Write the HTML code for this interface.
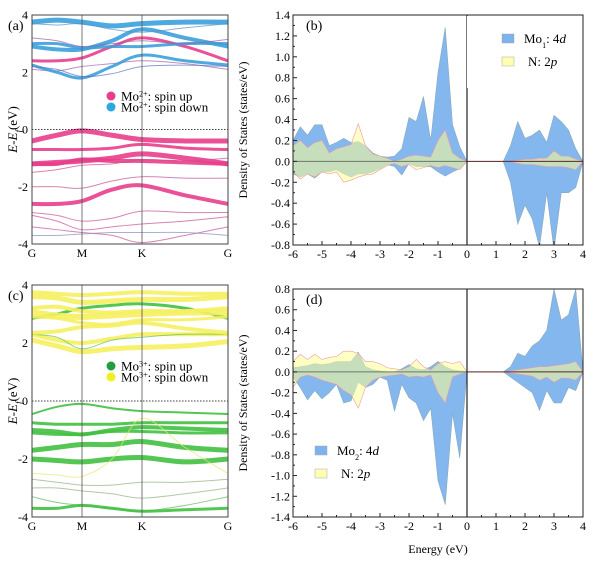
<!DOCTYPE html>
<html><head><meta charset="utf-8"><style>
html,body{margin:0;padding:0;background:#fff}
svg{display:block;font-family:"Liberation Serif",serif}
</style></head><body>
<svg id="fig" width="600" height="564" viewBox="0 0 600 564"></svg>
<script>
// ---------- DOS data (energy grid -6..4 step 0.25) ----------
const energies = [];
for (let i = 0; i <= 40; i++) energies.push(-6 + i * 0.25);
const mo1Up = [0.2,0.33,0.25,0.35,0.35,0.15,0.18,0.22,0.18,0.19,0.15,0.08,0.05,0.04,0.05,0.12,0.42,0.38,0.62,0.2,0.85,1.28,0.35,0.14,0,0,0,0,0,0,0.15,0.38,0.22,0.25,0.3,0.18,0.44,0.38,0.3,0.12,0];
const mo1Down = [-0.12,-0.15,-0.12,-0.16,-0.1,-0.1,-0.08,-0.12,-0.15,-0.12,-0.12,-0.1,-0.07,-0.03,-0.05,-0.13,-0.02,-0.05,-0.05,-0.05,-0.1,-0.14,-0.1,-0.07,0,0,0,0,0,0,-0.2,-0.6,-0.42,-0.55,-0.82,-0.3,-0.85,-0.3,-0.3,-0.25,0];
const n1Up = [0.15,0.2,0.13,0.18,0.2,0.08,0.12,0.14,0.16,0.36,0.15,0.07,0.05,0.03,0,0.02,0.05,0.06,0.05,0.04,0.2,0.3,0.08,0.03,0,0,0,0,0,0,0,0.01,0.02,0.02,0.03,0.03,0.1,0.05,0.05,0.02,0];
const n1Down = [-0.1,-0.17,-0.12,-0.15,-0.1,-0.12,-0.1,-0.2,-0.18,-0.15,-0.13,-0.12,-0.08,-0.04,-0.02,-0.05,-0.03,-0.08,-0.06,-0.04,-0.06,-0.04,-0.06,-0.08,0,0,0,0,0,0,0,-0.02,-0.03,-0.03,-0.04,-0.05,-0.05,-0.05,-0.06,-0.08,0];
const mo2Up = [0.04,0.05,0.06,0.08,0.07,0.08,0.1,0.1,0.1,0.19,0.05,0.02,0.01,0,0,0.03,0.07,0.03,0.02,0.05,0.1,0.05,0.02,0.01,0,0,0,0,0,0,0.05,0.18,0.15,0.25,0.3,0.4,0.8,0.5,0.55,0.8,0];
const mo2Down = [-0.05,-0.15,-0.27,-0.18,-0.26,-0.2,-0.12,-0.3,-0.28,-0.1,-0.15,-0.12,-0.05,-0.08,-0.38,-0.12,-0.25,-0.3,-0.47,-0.35,-1.05,-1.28,-0.4,-0.83,0,0,0,0,0,0,-0.05,-0.1,-0.15,-0.2,-0.37,-0.18,-0.3,-0.3,-0.15,-0.18,0];
const n2Up = [0.1,0.17,0.12,0.17,0.12,0.14,0.15,0.2,0.2,0.18,0.1,0.1,0.08,0.04,0.03,0.02,0.05,0.12,0.05,0.02,0.08,0.1,0.08,0.1,0,0,0,0,0,0,0.01,0.02,0.03,0.04,0.05,0.05,0.06,0.07,0.08,0.1,0];
const n2Down = [-0.15,-0.05,-0.03,-0.05,-0.08,-0.1,-0.12,-0.18,-0.22,-0.35,-0.15,-0.08,-0.05,-0.04,-0.03,-0.02,-0.05,-0.04,-0.05,-0.03,-0.2,-0.3,-0.05,-0.02,0,0,0,0,0,0,-0.01,-0.02,-0.03,-0.04,-0.08,-0.05,-0.1,-0.06,-0.06,-0.08,0];
const xTickLabels = ["-6","-5","-4","-3","-2","-1","0","1","2","3","4"];
const bTicks = [1.4,1.2,1.0,0.8,0.6,0.4,0.2,0.0,-0.2,-0.4,-0.6,-0.8];
const dTicks = [0.8,0.6,0.4,0.2,0.0,-0.2,-0.4,-0.6,-0.8,-1.0,-1.2,-1.4];
// ---------- Band data (energies at 7 k-points: G, GM, M, MK, K, KG, G) ----------
const kPoints = [0,0.5,1,1.6,2.2,3.06,3.92];
const kLabels = ["G","M","K","G"];
const kLabelPos = [0,1,2.2,3.92];
const bandTicks = [4,2,0,-2,-4];
const bandsA = [
 [[-0.4,-0.2,-0.05,-0.2,-0.35,-0.4,-0.4],"#e83e8c",5],
 [[-0.7,-0.7,-0.7,-0.65,-0.52,-0.65,-0.7],"#e83e8c",3],
 [[-1.2,-1.15,-1.1,-1.0,-0.85,-1.0,-1.2],"#e83e8c",5],
 [[-1.2,-1.2,-1.05,-1.1,-1.1,-1.15,-1.2],"#e83e8c",4],
 [[-1.5,-1.4,-1.25,-1.2,-1.05,-1.1,-1.0],"#d0508a",1],
 [[-2.0,-2.0,-2.05,-1.8,-1.65,-1.7,-1.7],"#c05090",1],
 [[-2.6,-2.6,-2.5,-2.1,-1.95,-2.3,-2.6],"#e83e8c",4],
 [[-2.9,-3.0,-3.2,-3.1,-2.85,-2.9,-2.9],"#c85090",1],
 [[-3.0,-3.2,-3.5,-3.4,-3.3,-3.2,-3.05],"#c85090",1],
 [[-3.4,-3.5,-3.6,-3.7,-3.95,-3.7,-3.4],"#c85090",1],
 [[-3.7,-3.7,-3.65,-3.6,-3.6,-3.6,-3.7],"#8090c0",1],
 [[2.4,2.4,2.5,2.9,3.2,2.9,2.4],"#e83e8c",3],
 [[2.1,2.05,2.2,2.3,2.4,2.3,2.1],"#a060a0",1],
 [[2.25,2.0,1.8,2.2,2.6,2.4,2.25],"#3aa0dc",3],
 [[2.2,2.1,1.85,1.95,2.2,2.25,2.2],"#6070c0",1],
 [[2.9,2.8,2.8,3.1,3.5,3.2,2.9],"#3aa0dc",4],
 [[3.0,3.0,2.85,2.9,2.9,3.0,3.0],"#3aa0dc",3],
 [[3.2,3.1,2.9,3.0,3.1,3.0,3.15],"#a060a0",1],
 [[3.7,3.65,3.7,3.5,3.4,3.55,3.7],"#6090c0",1],
 [[3.75,3.82,3.75,3.62,3.7,3.75,3.75],"#3aa0dc",5]
];
const bandsC = [
 [[-0.45,-0.2,-0.1,-0.25,-0.35,-0.4,-0.45],"#40c040",2],
 [[-0.75,-0.8,-0.8,-0.8,-0.75,-0.75,-0.75],"#40c040",3],
 [[-1.0,-1.05,-1.15,-1.0,-0.9,-0.95,-1.0],"#40c040",4],
 [[-1.1,-1.15,-1.15,-1.05,-1.05,-1.1,-1.1],"#40c040",3],
 [[-1.7,-1.6,-1.5,-1.5,-1.4,-1.6,-1.7],"#40c040",5],
 [[-2.0,-2.05,-2.1,-2.0,-1.95,-2.1,-2.0],"#40c040",5],
 [[-2.5,-2.55,-2.6,-2.0,-0.6,-1.6,-2.5],"#e8e870",1],
 [[-2.7,-2.8,-2.9,-2.9,-2.8,-2.8,-2.7],"#90b080",1],
 [[-3.0,-3.0,-3.1,-3.2,-3.35,-3.2,-3.0],"#90b080",1],
 [[-3.3,-3.5,-3.6,-3.7,-3.8,-3.6,-3.3],"#60b060",1],
 [[-3.7,-3.7,-3.6,-3.7,-3.8,-3.75,-3.7],"#40c040",3],
 [[2.1,1.9,1.7,1.8,1.85,1.9,2.05],"#f6f060",5],
 [[2.3,2.1,2.0,2.15,2.3,2.3,2.3],"#f6f060",4],
 [[2.3,2.2,1.8,2.1,2.2,2.3,2.3],"#60c060",1],
 [[2.35,2.4,2.55,2.6,2.7,2.5,2.35],"#f6f060",4],
 [[2.85,3.0,3.2,3.3,3.35,3.2,2.85],"#40c040",3],
 [[2.9,2.85,2.7,2.65,2.8,2.8,2.9],"#f6f060",3],
 [[3.05,2.95,2.9,2.95,3.0,3.05,3.05],"#f6f060",6],
 [[3.2,3.25,3.1,3.05,3.1,3.1,3.2],"#f6f060",4],
 [[3.6,3.55,3.4,3.45,3.5,3.5,3.6],"#f6f060",5],
 [[3.75,3.7,3.65,3.7,3.75,3.7,3.7],"#f6f060",4]
];

const NS="http://www.w3.org/2000/svg";
const svg=document.getElementById("fig");
function el(tag,attrs,parent){const e=document.createElementNS(NS,tag);for(const k in attrs)e.setAttribute(k,attrs[k]);(parent||svg).appendChild(e);return e;}
function txt(s,x,y,attrs,parent){const t=el("text",Object.assign({x:x,y:y,"font-size":12,fill:"#000"},attrs||{}),parent);t.textContent=s;return t;}
function smooth(pts){let d="M"+pts[0][0]+","+pts[0][1];for(let i=0;i<pts.length-1;i++){const p0=pts[Math.max(0,i-1)],p1=pts[i],p2=pts[i+1],p3=pts[Math.min(pts.length-1,i+2)];const c1=[p1[0]+(p2[0]-p0[0])/6,p1[1]+(p2[1]-p0[1])/6],c2=[p2[0]-(p3[0]-p1[0])/6,p2[1]-(p3[1]-p1[1])/6];d+=" C"+c1+" "+c2+" "+p2;}return d;}

function bandPanel(name,L,R,T,B,bands,legendCols,legendTxt,label){
  const g=el("g",{});
  
  
  const xs=k=>L+(k/3.92)*(R-L), ys=e=>T+(4-e)/8*(B-T);
  el("rect",{x:L,y:T,width:R-L,height:B-T,fill:"#fff"},g);
  bands.forEach(b=>{
    const p=el("path",{d:smooth(b[0].map((e,i)=>[xs(kPoints[i]),ys(e)])),fill:"none",stroke:b[1],"stroke-width":b[2],"stroke-opacity":b[2]>1?0.9:0.7},g);
    
    
  });
  [1,2.2].forEach(k=>el("line",{x1:xs(k),x2:xs(k),y1:T,y2:B,stroke:"#555","stroke-width":0.8},g));
  el("line",{x1:L,x2:R,y1:ys(0),y2:ys(0),stroke:"#000","stroke-width":0.7,"stroke-dasharray":"1.5,1.5"},g);
  el("rect",{x:L,y:T,width:R-L,height:B-T,fill:"none",stroke:"#444","stroke-width":1},g);
  bandTicks.forEach(v=>{const t=txt(String(v),L-4,ys(v)+4,{"text-anchor":"end"},g);});
  kLabels.forEach((s,i)=>{const t=txt(s,xs(kLabelPos[i]),B+13,{"text-anchor":"middle"},g);});
  const yt=el("text",{x:0,y:0,transform:`translate(${L-15},${ys(0)}) rotate(-90)`,"text-anchor":"middle","font-size":13},g);
  
  yt.innerHTML='<tspan font-style="italic">E</tspan>-<tspan font-style="italic">E</tspan><tspan font-style="italic" font-size="9" baseline-shift="sub">f</tspan>(eV)';
  const pl=txt(label,L-24,T+15,{"font-size":14},g);
  legendTxt.forEach((s,i)=>{
    const y=T+81+i*11;
    const lg=el("g",{},g);
    el("circle",{cx:L+79,cy:y,r:4.5,fill:legendCols[i]},lg);
    const t=el("text",{x:L+89,y:y+4.5,"font-size":13},lg);
    t.innerHTML='Mo<tspan font-size="8" baseline-shift="super">'+s[0]+'</tspan>: '+s[1];
  });
}

function dosPanel(name,L,R,T,B,ymax,ymin,ticks,up,down,nUp,nDown,label,legend,legPos){
  const g=el("g",{});
  
  
  const xs=e=>L+(e+6)/10*(R-L), ys=v=>T+(ymax-v)/(ymax-ymin)*(B-T);
  const cp="clip-"+name;
  const c=el("clipPath",{id:cp},g);el("rect",{x:L,y:T,width:R-L,height:B-T},c);
  const area=(arr,fill,stroke,nm)=>{let d="M"+xs(energies[0])+","+ys(0);arr.forEach((v,i)=>d+=" L"+xs(energies[i])+","+ys(v));d+=" L"+xs(energies[energies.length-1])+","+ys(0)+"Z";const p=el("path",{d:d,fill:fill,stroke:stroke,"stroke-width":0.6,"clip-path":`url(#${cp})`},g);};
  area(up,"rgba(110,170,235,0.85)","#8ab","mo-4d-spin-up");
  area(down,"rgba(110,170,235,0.85)","#8ab","mo-4d-spin-down");
  area(nUp,"rgba(255,255,150,0.55)","#e9a","n-2p-spin-up");
  area(nDown,"rgba(255,255,150,0.55)","#e9a","n-2p-spin-down");
  el("line",{x1:L,x2:xs(0),y1:ys(0),y2:ys(0),stroke:"#6a7a6a","stroke-width":1},g);
  el("line",{x1:xs(0),x2:R,y1:ys(0),y2:ys(0),stroke:"#5a2a2a","stroke-width":1},g);
  el("line",{x1:xs(0),x2:xs(0),y1:T,y2:B,stroke:"#222","stroke-width":1.2},g);
  const lg=el("g",{},g);
  if(legend.box) el("rect",{x:legend.box[0],y:legend.box[1],width:legend.box[2],height:legend.box[3],fill:"#fff"},lg);
  [["rgba(110,170,235,0.9)",legend.t1],["rgba(255,255,170,0.9)",'N: 2<tspan font-style="italic">p</tspan>']].forEach((e,i)=>{
    const y=legPos[1]+i*23;
    el("rect",{x:legPos[0],y:y-6,width:12,height:9,fill:e[0],stroke:"#aaa","stroke-width":0.5},lg);
    const t=el("text",{x:legPos[0]+22+(i?4:0),y:y+3,"font-size":13},lg);t.innerHTML=e[1];
  });
  el("rect",{x:L,y:T,width:R-L,height:B-T,fill:"none",stroke:"#222","stroke-width":1},g);
  ticks.forEach(v=>{el("line",{x1:L,x2:L+4,y1:ys(v),y2:ys(v),stroke:"#222"},g);const t=txt(v.toFixed(1).replace("-0.0","0.0"),L-3,ys(v)+4,{"text-anchor":"end"},g);});
  for(let i=0;i<ticks.length-1;i++){const m=(ticks[i]+ticks[i+1])/2;el("line",{x1:L,x2:L+2,y1:ys(m),y2:ys(m),stroke:"#222"},g);}
  xTickLabels.forEach((s,i)=>{const v=+s;el("line",{x1:xs(v),x2:xs(v),y1:B,y2:B-4,stroke:"#222"},g);if(i<xTickLabels.length-1)el("line",{x1:xs(v+0.5),x2:xs(v+0.5),y1:B,y2:B-2,stroke:"#222"},g);const t=txt(s,xs(v),B+13,{"text-anchor":"middle"},g);});
  const yt=el("text",{x:0,y:0,transform:`translate(${L-46},${(T+B)/2}) rotate(-90)`,"text-anchor":"middle","font-size":12},g);
  yt.textContent="Density of States (states/eV)";
  const pl=txt(label,L+13,T+15,{"font-size":14},g);
}

bandPanel("band-structure-a",32,228,15,244,bandsA,["#e83e8c","#2aa8e0"],[["2+","spin up"],["2+","spin down"]],"(a)");
bandPanel("band-structure-c",32,228,285,517,bandsC,["#22a040","#f0f020"],[["3+","spin up"],["3+","spin down"]],"(c)");
dosPanel("dos-b",293,583,15,245,1.4,-0.8,bTicks,mo1Up,mo1Down,n1Up,n1Down,"(b)",{t1:'Mo<tspan font-size="8" baseline-shift="sub">1</tspan>: 4<tspan font-style="italic">d</tspan>',box:[467,16,115,72]},[502,40]);
dosPanel("dos-d",293,583,289,517,0.8,-1.4,dTicks,mo2Up,mo2Down,n2Up,n2Down,"(d)",{t1:'Mo<tspan font-size="8" baseline-shift="sub">2</tspan>: 4<tspan font-style="italic">d</tspan>',box:null},[315,452]);
const xt=txt("Energy (eV)",438,553,{"text-anchor":"middle","font-size":12});


</script>
</body></html>
